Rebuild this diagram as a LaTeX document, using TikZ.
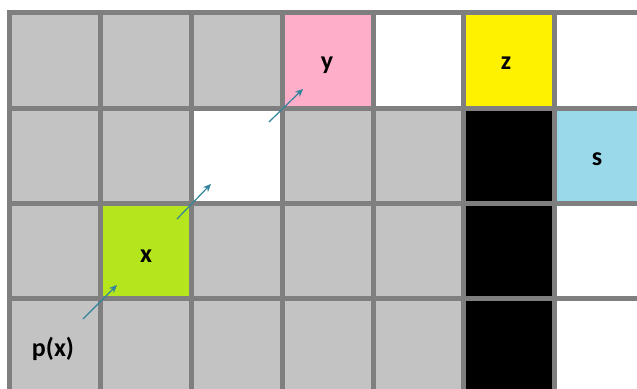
\documentclass[tikz,border=0pt]{standalone}
\usepackage{fontspec}
\setsansfont{Carlito}
\usetikzlibrary{arrows.meta}

\definecolor{cellgray}{HTML}{C3C3C3}
\definecolor{linegray}{HTML}{7F7F7F}
\definecolor{pinkcell}{HTML}{FFAEC9}
\definecolor{yellowcell}{HTML}{FFF200}
\definecolor{greencell}{HTML}{B5E61D}
\definecolor{bluecell}{HTML}{99D9EA}
\definecolor{arrowteal}{HTML}{31849B}

\begin{document}
\begin{tikzpicture}[x=90.75pt,y=-95.3pt,
    gridline/.style={draw=linegray, line width=5pt, line cap=rect},
    lbl/.style={font=\sffamily\bfseries\fontsize{26}{28}\selectfont, inner sep=0pt},
    move/.style={draw=arrowteal, line width=1.2pt, -{Stealth[length=8pt,width=7pt]}}]
	\useasboundingbox (-0.110,-0.136) rectangle (6.909,3.945);
	\clip (-0.110,-0.136) rectangle (6.909,3.945);
	% cells
	\fill[cellgray] (0,0) rectangle (5,4);
	\fill[white] (4,0) rectangle (5,1);
	\fill[white] (2,1) rectangle (3,2);
	\fill[pinkcell] (3,0) rectangle (4,1);
	\fill[yellowcell] (5,0) rectangle (6,1);
	\fill[black] (5,1) rectangle (6,4.5);
	\fill[bluecell] (6,1) rectangle (7.5,2);
	\fill[greencell] (1,2) rectangle (2,3);
	% grid
	\foreach \c in {0,...,7}
		\draw[gridline] (\c,0) -- (\c,4.3);
	\foreach \r in {0,...,4}
		\draw[gridline] (0,\r) -- (7.3,\r);
	% labels
	\node[lbl] (y) at (3.493,0.55) {y};
	\node[lbl] (z) at (5.466,0.525) {z};
	\node[lbl] (s) at (6.468,1.532) {s};
	\node[lbl] (x) at (1.499,2.55) {x};
	\node[lbl] (px) at (0.474,3.53) {p(x)};
	% moves
	\coordinate (a1) at (0.804,3.211);
	\coordinate (b1) at (1.179,2.854);
	\coordinate (a2) at (1.840,2.162);
	\coordinate (b2) at (2.215,1.794);
	\coordinate (a3) at (2.854,1.144);
	\coordinate (b3) at (3.229,0.797);
	\draw[move] (a1) -- (b1);
	\draw[move] (a2) -- (b2);
	\draw[move] (a3) -- (b3);
\end{tikzpicture}
\end{document}
